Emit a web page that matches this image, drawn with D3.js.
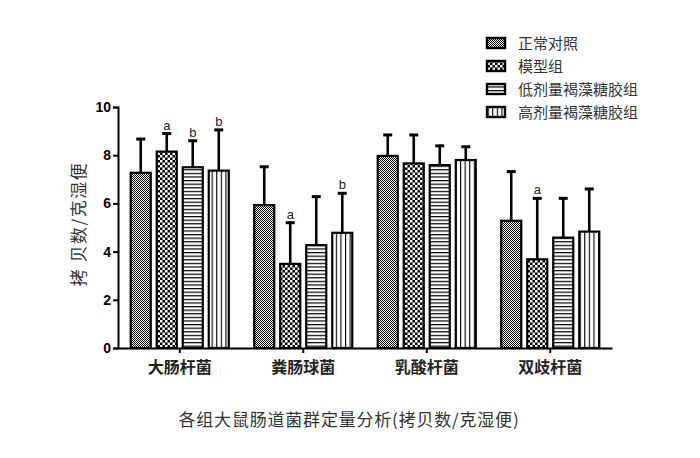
<!DOCTYPE html>
<html><head><meta charset="utf-8">
<script src="https://cdn.jsdelivr.net/npm/d3@7/dist/d3.min.js"></script>
<style>body{margin:0;background:#fff;} svg{display:block;}</style>
</head><body>
<svg id="c" width="700" height="458"></svg>
<script>
const categories = ["大肠杆菌", "粪肠球菌", "乳酸杆菌", "双歧杆菌"];
const seriesNames = ["正常对照", "模型组", "低剂量褐藻糖胶组", "高剂量褐藻糖胶组"];
const meanControl = [7.27, 5.93, 7.97, 5.28];
const meanModel   = [8.15, 3.49, 7.66, 3.68];
const meanLow     = [7.50, 4.27, 7.59, 4.58];
const meanHigh    = [7.36, 4.78, 7.80, 4.83];
const sdControl = [1.40, 1.59, 0.87, 2.04];
const sdModel   = [0.75, 1.71, 1.18, 2.53];
const sdLow     = [1.10, 2.01, 0.80, 1.63];
const sdHigh    = [1.69, 1.64, 0.55, 1.77];
const markControl = ["", "", "", ""];
const markModel   = ["a", "a", "", "a"];
const markLow     = ["b", "", "", ""];
const markHigh    = ["b", "b", "", ""];
const yTicks = [0, 2, 4, 6, 8, 10];
const yLabel = "拷 贝数/克湿便";
const title = "各组大鼠肠道菌群定量分析(拷贝数/克湿便)";

const means = [meanControl, meanModel, meanLow, meanHigh];
const sds = [sdControl, sdModel, sdLow, sdHigh];
const marks = [markControl, markModel, markLow, markHigh];

const svg = d3.select("#c");
const defs = svg.append("defs");
const cjk = "'Noto Sans CJK SC', sans-serif";

// patterns
const p0 = defs.append("pattern").attr("id","p0").attr("patternUnits","userSpaceOnUse").attr("width",2).attr("height",2);
p0.append("rect").attr("width",2).attr("height",2).attr("fill","#fff");
p0.append("rect").attr("width",1).attr("height",1).attr("fill","#000");
p0.append("rect").attr("x",1).attr("y",1).attr("width",1).attr("height",1).attr("fill","#000");

const p1 = defs.append("pattern").attr("id","p1").attr("patternUnits","userSpaceOnUse").attr("width",5).attr("height",5);
p1.append("rect").attr("width",5).attr("height",5).attr("fill","#000");
p1.append("rect").attr("width",2.5).attr("height",2.5).attr("fill","#fff");
p1.append("rect").attr("x",2.5).attr("y",2.5).attr("width",2.5).attr("height",2.5).attr("fill","#fff");

const p2 = defs.append("pattern").attr("id","p2").attr("patternUnits","userSpaceOnUse").attr("width",4).attr("height",3.6);
p2.append("rect").attr("width",4).attr("height",3.6).attr("fill","#fff");
p2.append("rect").attr("width",4).attr("height",1.2).attr("fill","#000");

const p3 = defs.append("pattern").attr("id","p3").attr("patternUnits","userSpaceOnUse").attr("width",4.6).attr("height",4);
p3.append("rect").attr("width",4.6).attr("height",4).attr("fill","#fff");
p3.append("rect").attr("width",1.1).attr("height",4).attr("fill","#000");

const fills = ["url(#p0)","url(#p1)","url(#p2)","url(#p3)"];

const y = d3.scaleLinear().domain([0, 10]).range([348, 107]);
const x0 = d3.scaleBand().domain(categories).range([118, 612]).paddingInner(0.206).paddingOuter(0.103);
const x1 = d3.scaleBand().domain(seriesNames).range([0, x0.bandwidth()]).paddingInner(0.23).paddingOuter(0);

// bars
seriesNames.forEach((s, si) => {
  categories.forEach((c, ci) => {
    const bx = x0(c) + x1(s);
    const bw = x1.bandwidth();
    const v = means[si][ci];
    const top = v + sds[si][ci];
    const cx = bx + bw / 2;
    svg.append("line").attr("x1",cx).attr("x2",cx).attr("y1",y(v)).attr("y2",y(top))
      .attr("stroke","#000").attr("stroke-width",2.6);
    svg.append("line").attr("x1",cx-4.5).attr("x2",cx+4.5).attr("y1",y(top)).attr("y2",y(top))
      .attr("stroke","#000").attr("stroke-width",3);
    svg.append("rect").attr("x",bx).attr("y",y(v)).attr("width",bw).attr("height",y(0)-y(v))
      .attr("fill",fills[si]).attr("stroke","#000").attr("stroke-width",2.2);
    const m = marks[si][ci];
    if (m) {
      svg.append("text").attr("x",cx).attr("y",y(top)-4).attr("text-anchor","middle")
        .attr("font-family","Arial, 'Liberation Sans', sans-serif").attr("font-size",13)
        .attr("fill","#222").text(m);
    }
  });
});

// y axis
const ya = svg.append("g").attr("transform","translate(118,0)")
  .call(d3.axisLeft(y).tickValues(yTicks).tickSize(5).tickPadding(2).tickFormat(d3.format("d")));
ya.selectAll("path,line").attr("stroke","#000").attr("stroke-width",2);
ya.selectAll("text").attr("font-family","Arial, 'Liberation Sans', sans-serif").attr("font-size",14)
  .attr("font-weight","bold").attr("fill","#000");

// x axis
const xa = svg.append("g").attr("transform","translate(0,348)")
  .call(d3.axisBottom(x0).tickSize(5).tickSizeOuter(0).tickPadding(9));
xa.selectAll("path,line").attr("stroke","#000").attr("stroke-width",2);
xa.selectAll("text").attr("font-family",cjk).attr("font-size",16).attr("font-weight","bold").attr("fill","#222");

// y label
svg.append("text").attr("transform","translate(85,224) rotate(-90)").attr("text-anchor","middle")
  .attr("font-family",cjk).attr("font-size",17).attr("letter-spacing",1.5).attr("fill","#333").text(yLabel);

// title
svg.append("text").attr("x",349).attr("y",426).attr("text-anchor","middle")
  .attr("font-family",cjk).attr("font-size",17).attr("letter-spacing",0.8).attr("fill","#333").text(title);

// legend
const lg = svg.append("g");
seriesNames.forEach((s, i) => {
  const ly = 43 + i * 23;
  lg.append("rect").attr("x",487).attr("y",ly-5).attr("width",18).attr("height",10)
    .attr("fill",fills[i]).attr("stroke","#000").attr("stroke-width",2.4);
  lg.append("text").attr("x",518).attr("y",ly+5.5).attr("font-family",cjk).attr("font-size",15)
    .attr("fill","#333").text(s);
});
</script>
</body></html>
